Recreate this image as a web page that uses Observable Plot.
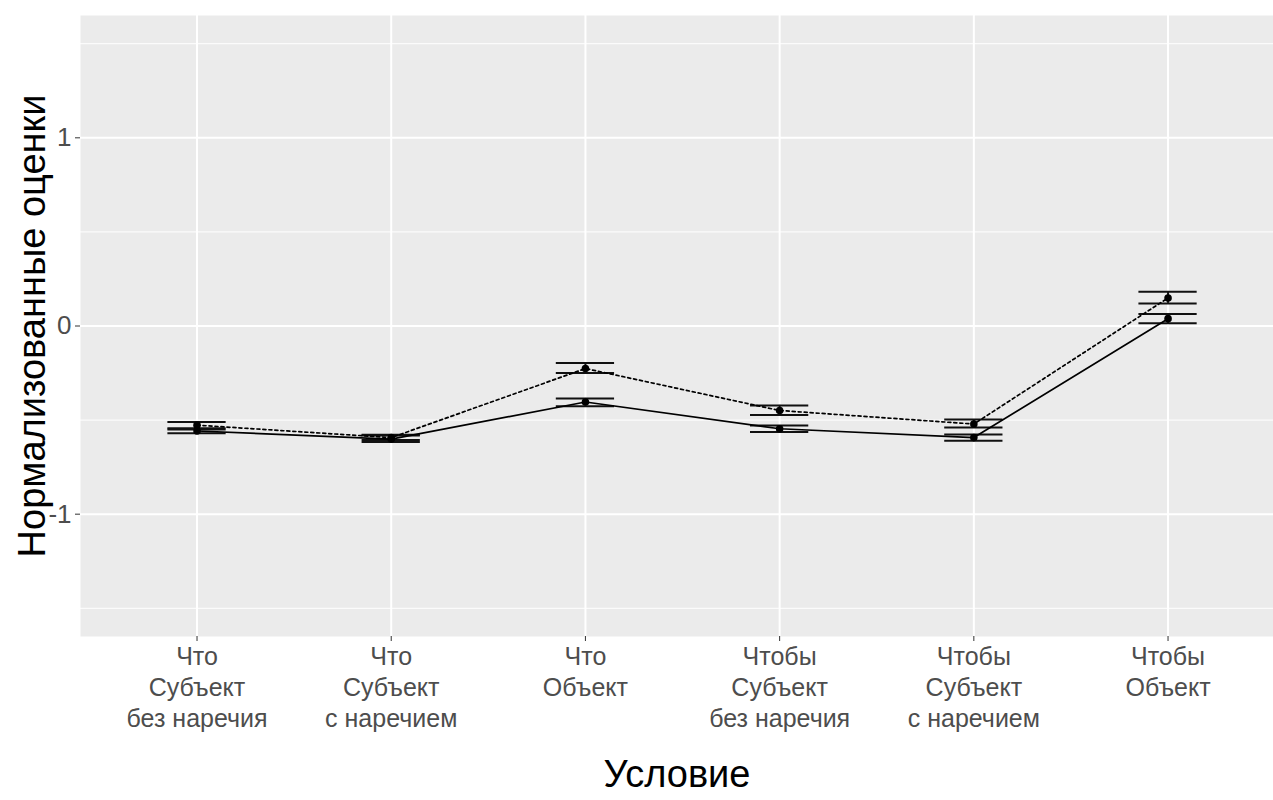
<!DOCTYPE html>
<html><head><meta charset="utf-8">
<script src="https://cdn.jsdelivr.net/npm/d3@7"></script>
<script src="https://cdn.jsdelivr.net/npm/@observablehq/plot@0.6"></script>
<style>
body{margin:0;background:#fff;font-family:Arial,"Liberation Sans",sans-serif}
#chart svg{display:block}
</style>
</head><body><div id="chart"></div>
<script>
const conditions = [
  "Что\nСубъект\nбез наречия",
  "Что\nСубъект\nс наречием",
  "Что\nОбъект",
  "Чтобы\nСубъект\nбез наречия",
  "Чтобы\nСубъект\nс наречием",
  "Чтобы\nОбъект"
];
// solid series
const solidMean = [-0.558, -0.601, -0.404, -0.546, -0.593, 0.039];
const solidMin  = [-0.570, -0.617, -0.426, -0.563, -0.610, 0.014];
const solidMax  = [-0.550, -0.582, -0.385, -0.529, -0.577, 0.064];
// dotted series
const dottedMean = [-0.527, -0.593, -0.226, -0.449, -0.521, 0.149];
const dottedMin  = [-0.543, -0.606, -0.250, -0.473, -0.539, 0.120];
const dottedMax  = [-0.510, -0.578, -0.197, -0.422, -0.497, 0.182];
const yTicks = [-1, 0, 1];
const yMinorTicks = [-1.5, -0.5, 0.5, 1.5];
const xTitle = "Условие";
const yTitle = "Нормализованные оценки";

const idx = conditions.map((_, i) => i + 1);
const rows = [];
idx.forEach((x, i) => {
  rows.push({x, series: "solid", mean: solidMean[i], lo: solidMin[i], hi: solidMax[i]});
  rows.push({x, series: "dotted", mean: dottedMean[i], lo: dottedMin[i], hi: dottedMax[i]});
});
const solid = rows.filter(d => d.series === "solid");
const dotted = rows.filter(d => d.series === "dotted");
const capHalf = 0.15;

const chart = Plot.plot({
  width: 1273,
  height: 800,
  marginLeft: 80,
  marginRight: 0,
  marginTop: 15,
  marginBottom: 164,
  style: {fontFamily: "Arial, 'Liberation Sans', sans-serif", background: "#fff"},
  x: {type: "linear", domain: [0.4, 6.543], axis: null},
  y: {domain: [-1.65, 1.65], axis: null},
  marks: [
    Plot.frame({fill: "#EBEBEB", stroke: null}),
    Plot.gridY(yMinorTicks, {stroke: "#fff", strokeOpacity: 1, strokeWidth: 1}),
    Plot.gridY(yTicks, {stroke: "#fff", strokeOpacity: 1, strokeWidth: 2}),
    Plot.gridX(idx, {stroke: "#fff", strokeOpacity: 1, strokeWidth: 2}),
    Plot.axisX(idx, {
      tickFormat: d => conditions[d - 1],
      fontSize: 25, lineHeight: 1.24, tickSize: 5, tickPadding: 1,
      stroke: "#333", fill: "#4D4D4D", label: null
    }),
    Plot.axisY(yTicks, {
      tickFormat: d => String(d),
      fontSize: 26, tickSize: 5, tickPadding: 4,
      stroke: "#333", fill: "#4D4D4D", label: null
    }),
    Plot.text([xTitle], {frameAnchor: "bottom", dy: 150, fontSize: 38, fill: "#000"}),
    Plot.text([yTitle], {frameAnchor: "left", textAnchor: "middle", dx: -48, rotate: -90, fontSize: 38, fill: "#000"}),
    // error bars
    Plot.ruleX(rows, {x: "x", y1: "lo", y2: "hi", stroke: "#111", strokeWidth: 2}),
    Plot.ruleY(rows, {y: "lo", x1: d => d.x - capHalf, x2: d => d.x + capHalf, stroke: "#111", strokeWidth: 2}),
    Plot.ruleY(rows, {y: "hi", x1: d => d.x - capHalf, x2: d => d.x + capHalf, stroke: "#111", strokeWidth: 2}),
    // lines
    Plot.line(solid, {x: "x", y: "mean", stroke: "#000", strokeWidth: 1.7}),
    Plot.line(dotted, {x: "x", y: "mean", stroke: "#000", strokeWidth: 1.7, strokeDasharray: "3,3"}),
    // points
    Plot.dot(rows, {x: "x", y: "mean", r: 3.8, fill: "#000", stroke: null})
  ]
});
document.getElementById("chart").append(chart);
</script>
</body></html>
